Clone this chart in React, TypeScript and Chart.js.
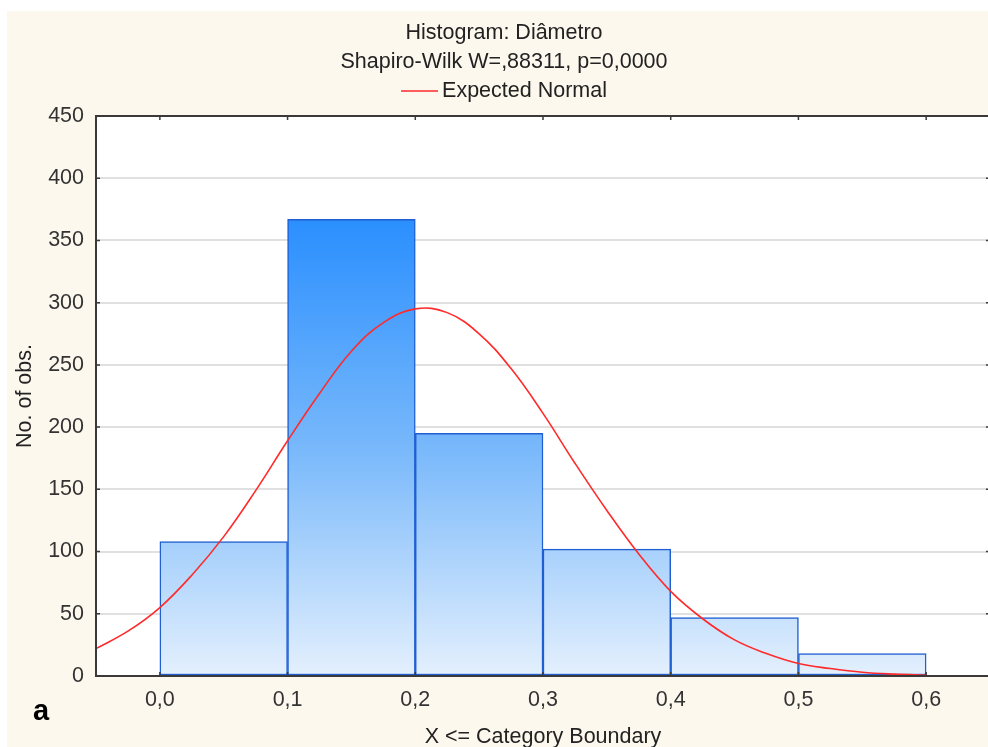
import React, { useEffect, useRef } from "react";
import { Chart, registerables } from "chart.js";

Chart.register(...registerables);

// ---- data ----
const binCenters = [0.05, 0.15, 0.25, 0.35, 0.45, 0.55];
const binCounts = [108, 367, 195, 102, 47, 18];

const normalX = [
  -0.05, -0.025, 0.0, 0.025, 0.05, 0.075, 0.1, 0.125, 0.15, 0.175, 0.2, 0.225,
  0.25, 0.275, 0.3, 0.325, 0.35, 0.375, 0.4, 0.425, 0.45, 0.475, 0.5, 0.525,
  0.55, 0.575, 0.6,
];
const normalY = [
  22, 36, 55, 81, 112, 149, 189, 227, 261, 284, 295, 292, 275, 247, 211, 171,
  133, 98, 68, 46, 29, 18, 10, 6, 3, 1.5, 0.7,
];

const xTicks = [0.0, 0.1, 0.2, 0.3, 0.4, 0.5, 0.6];
const yTicks = [0, 50, 100, 150, 200, 250, 300, 350, 400, 450];

const titleText = "Histogram: Diâmetro";
const subtitleText = "Shapiro-Wilk W=,88311, p=0,0000";
const legendText = "Expected Normal";
const xTitle = "X <= Category Boundary";
const yTitle = "No. of obs.";
const panelLabel = "a";

const FONT = "'Liberation Sans', Arial, sans-serif";
const FS = 21.5;
const CREAM = "#fdf8ee";
const TEXT = "#222222";
const RED = "#ff2a2a";

const decorPlugin = {
  id: "decor",
  beforeDraw(chart: any) {
    const { ctx, chartArea: a, width, height } = chart;
    ctx.save();
    ctx.fillStyle = CREAM;
    ctx.fillRect(0, 0, width, height);
    ctx.fillStyle = "#ffffff";
    ctx.fillRect(a.left, a.top, a.right - a.left, a.bottom - a.top);
    ctx.restore();
  },
  afterDraw(chart: any) {
    const { ctx, chartArea: a, width, scales } = chart;
    ctx.save();
    // frame
    ctx.strokeStyle = "#3a3a3a";
    ctx.lineWidth = 2;
    ctx.strokeRect(a.left, a.top, a.right - a.left, a.bottom - a.top);
    // inward ticks
    ctx.lineWidth = 1.5;
    const tl = 4;
    scales.y.ticks.forEach((t: any) => {
      const p = scales.y.getPixelForValue(t.value);
      ctx.beginPath();
      ctx.moveTo(a.left, p);
      ctx.lineTo(a.left + tl, p);
      ctx.moveTo(a.right, p);
      ctx.lineTo(a.right - tl, p);
      ctx.stroke();
    });
    scales.x.ticks.forEach((t: any) => {
      const p = scales.x.getPixelForValue(t.value);
      ctx.beginPath();
      ctx.moveTo(p, a.bottom);
      ctx.lineTo(p, a.bottom - tl);
      ctx.moveTo(p, a.top);
      ctx.lineTo(p, a.top + tl);
      ctx.stroke();
    });
    // titles
    const cx = width / 2;
    ctx.fillStyle = TEXT;
    ctx.font = `${FS}px ${FONT}`;
    ctx.textAlign = "center";
    ctx.textBaseline = "middle";
    ctx.fillText(titleText, cx, 22);
    ctx.fillText(subtitleText, cx, 51);
    // legend
    const lineW = 37;
    const gap = 4;
    const tw = ctx.measureText(legendText).width;
    const total = lineW + gap + tw;
    const lx = cx - total / 2;
    ctx.strokeStyle = RED;
    ctx.lineWidth = 1.5;
    ctx.beginPath();
    ctx.moveTo(lx, 80);
    ctx.lineTo(lx + lineW, 80);
    ctx.stroke();
    ctx.textAlign = "left";
    ctx.fillText(legendText, lx + lineW + gap, 80);
    // panel label
    ctx.font = `bold 29px ${FONT}`;
    ctx.fillStyle = "#000000";
    ctx.textBaseline = "alphabetic";
    ctx.fillText(panelLabel, 26, 709);
    ctx.restore();
  },
};

export default function App() {
  const ref = useRef<HTMLCanvasElement | null>(null);

  useEffect(() => {
    document.body.style.margin = "0";
    const canvas = ref.current;
    if (!canvas) return;

    const chart = new Chart(canvas, {
      type: "bar",
      data: {
        datasets: [
          {
            type: "line",
            label: legendText,
            data: normalX.map((x, i) => ({ x, y: normalY[i] })),
            borderColor: RED,
            backgroundColor: RED,
            borderWidth: 1.6,
            pointRadius: 0,
            tension: 0.4,
            fill: false,
            order: 0,
          } as any,
          {
            type: "bar",
            label: "Diâmetro",
            data: binCenters.map((x, i) => ({ x, y: binCounts[i] })),
            backgroundColor: (c: any) => {
              const ch = c.chart;
              if (!ch.chartArea) return "#8fc3fb";
              const ys = ch.scales.y;
              const top = ys.getPixelForValue(Math.max(...binCounts));
              const bot = ys.getPixelForValue(0);
              const g = ch.ctx.createLinearGradient(0, top, 0, bot);
              g.addColorStop(0, "#2a8ffe");
              g.addColorStop(0.5, "#78b8fb");
              g.addColorStop(1, "#e4f0fd");
              return g;
            },
            borderColor: "#1f5fd2",
            borderWidth: 1.5,
            borderSkipped: false,
            barPercentage: 1,
            categoryPercentage: 1,
            grouped: false,
            order: 1,
          } as any,
        ],
      },
      options: {
        responsive: false,
        animation: false,
        devicePixelRatio: 1,
        layout: { padding: { top: 105, left: 0, right: 11, bottom: 0 } },
        plugins: {
          legend: { display: false },
          title: { display: false },
          tooltip: { enabled: false },
        },
        events: [],
        scales: {
          x: {
            type: "linear",
            min: -0.05,
            max: 0.65,
            offset: false,
            grid: { display: false, drawTicks: false },
            border: { display: false },
            afterBuildTicks: (s: any) => {
              s.ticks = xTicks.map((v) => ({ value: v }));
            },
            afterFit: (s: any) => {
              s.height = 95;
            },
            ticks: {
              padding: 11,
              color: "#333333",
              font: { family: FONT, size: FS },
              maxRotation: 0,
              autoSkip: false,
              callback: (v: any) => Number(v).toFixed(1).replace(".", ","),
            },
            title: {
              display: true,
              text: xTitle,
              color: TEXT,
              font: { family: FONT, size: FS },
              padding: { top: 0, bottom: 21 },
            },
          },
          y: {
            type: "linear",
            min: 0,
            max: 450,
            grid: { color: "#e0e0e0", lineWidth: 2, drawTicks: false },
            border: { display: false },
            afterBuildTicks: (s: any) => {
              s.ticks = yTicks.map((v) => ({ value: v }));
            },
            afterFit: (s: any) => {
              s.width = 89;
            },
            ticks: {
              padding: 12,
              color: "#333333",
              font: { family: FONT, size: FS },
            },
            title: {
              display: true,
              text: yTitle,
              color: TEXT,
              font: { family: FONT, size: FS },
              padding: { top: 5, bottom: 0 },
            },
          },
        },
      },
      plugins: [decorPlugin],
    });

    return () => chart.destroy();
  }, []);

  return (
    <div
      style={{
        position: "relative",
        width: 988,
        height: 747,
        overflow: "hidden",
        background: "#ffffff",
      }}
    >
      <canvas
        ref={ref}
        width={994}
        height={760}
        style={{ position: "absolute", left: 7, top: 11, width: 994, height: 760 }}
      />
    </div>
  );
}
